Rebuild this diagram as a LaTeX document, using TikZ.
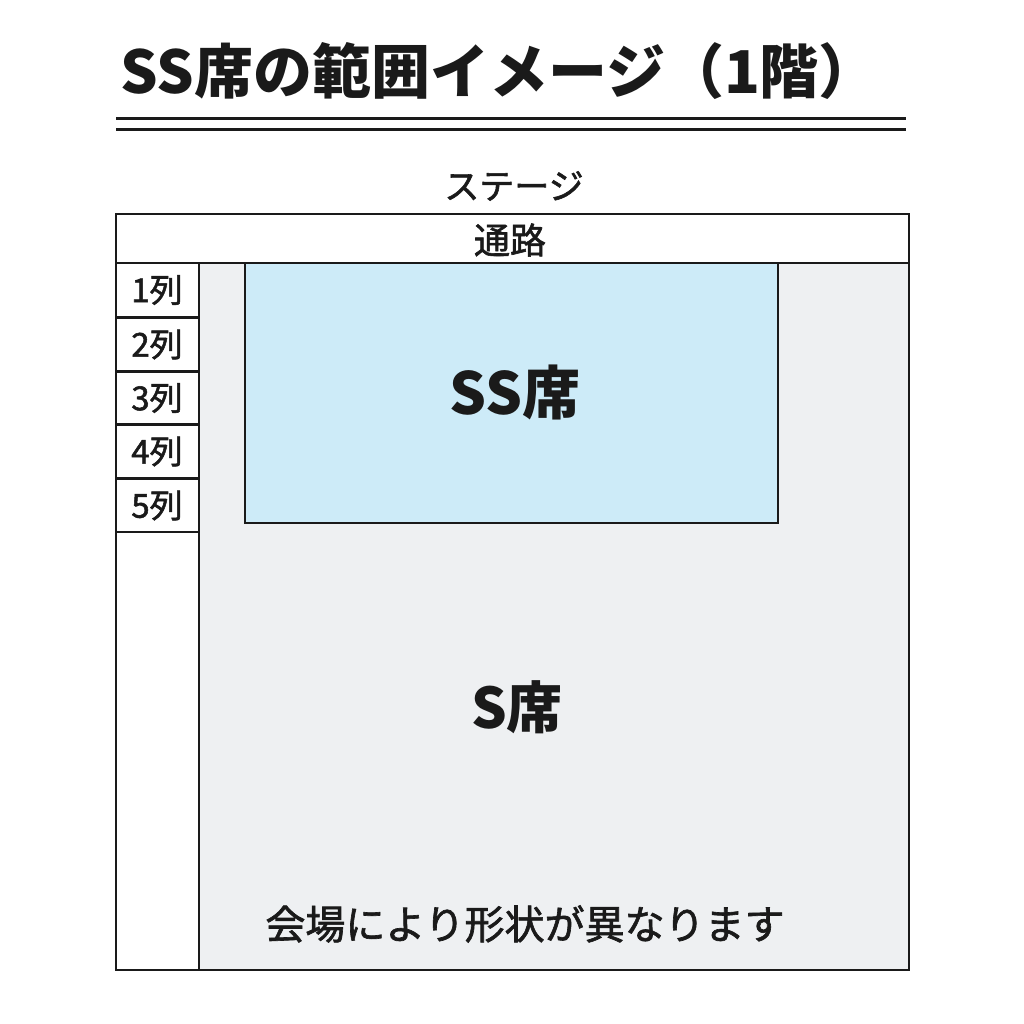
\documentclass[tikz,border=0pt]{standalone}
\usepackage{fontspec}
\setmainfont{Noto Sans CJK JP}
\newfontfamily\medfont[FakeBold=1.6]{Noto Sans CJK JP}
\definecolor{ink}{HTML}{1A1A1A}
\definecolor{sarea}{HTML}{EEF0F2}
\definecolor{ssarea}{HTML}{CDEBF8}
\tikzset{
  border/.style={draw=ink, line width=2.4pt},
  lbl/.style={text=ink, inner sep=0pt, anchor=center},
  rowlbl/.style={lbl, font=\medfont\fontsize{33}{33}\selectfont},
}
\begin{document}
\begin{tikzpicture}[x=1pt,y=-1pt]
\useasboundingbox (0,0) rectangle (1024,1024);
\fill[white] (0,0) rectangle (1024,1024);
% title
\node[lbl, font=\bfseries\fontsize{59}{59}\selectfont] (title) at (499,71) {SS席の範囲イメージ（1階）};
\draw[ink, line width=3pt] (116,119) -- (906,119);
\draw[ink, line width=3pt] (116,130) -- (906,130);
% stage label
\node[lbl, font=\medfont\fontsize{35}{35}\selectfont] (stage) at (514,186) {ステージ};
% areas
\fill[sarea] (199,263) rectangle (909,970);
\fill[white] (116,214) rectangle (909,263);
\fill[white] (116,263) rectangle (199,970);
\draw[border] (116,214) rectangle (909,970);
\draw[border] (116,263) -- (909,263);
\draw[border] (199,263) -- (199,970);
\node[lbl, font=\medfont\fontsize{36}{36}\selectfont] (aisle) at (510,240) {通路};
% rows
\foreach \i/\ya/\yb in {1/263/317, 2/318/371, 3/372/424, 4/425/478, 5/479/532} {
  \draw[border, fill=white] (116,\ya) rectangle (199,\yb);
  \node[rowlbl] (row\i) at (157,{(\ya+\yb)/2}) {\i 列};
}
% SS area
\draw[border, fill=ssarea] (245,263) rectangle (778,523);
\node[lbl, font=\bfseries\fontsize{58}{58}\selectfont] (ss) at (515,392) {SS席};
\node[lbl, font=\bfseries\fontsize{56}{56}\selectfont] (s) at (517,707) {S席};
\node[lbl, font=\medfont\fontsize{40}{40}\selectfont] (note) at (525,924) {会場により形状が異なります};
\end{tikzpicture}
\end{document}
